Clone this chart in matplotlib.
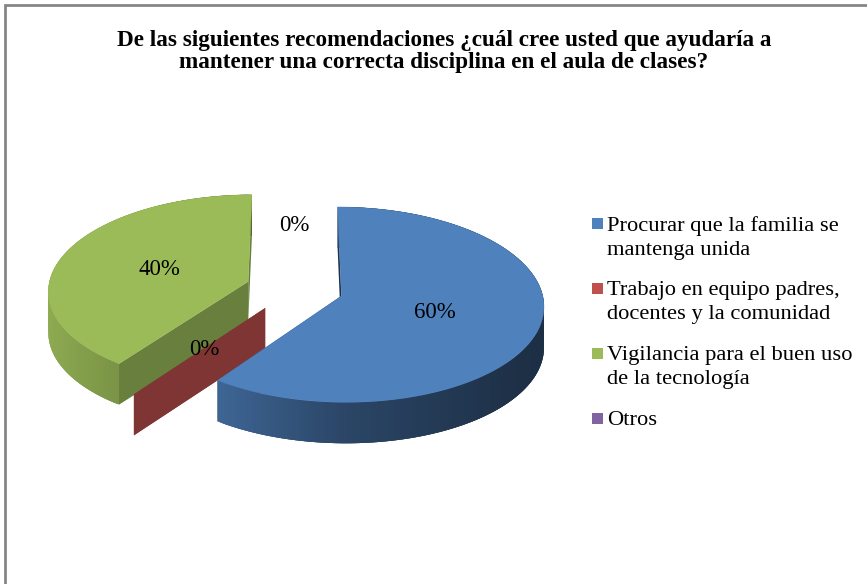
#!/usr/bin/env python3

import matplotlib
matplotlib.use("Agg")
import matplotlib.pyplot as plt
from matplotlib.patches import Polygon, Rectangle
from matplotlib.collections import PolyCollection
from matplotlib.colors import to_rgb
import numpy as np

title = ("De las siguientes recomendaciones ¿cuál cree usted que ayudaría a\n"
         "mantener una correcta disciplina en el aula de clases?")
categories = ["Procurar que la familia se\nmantenga unida",
              "Trabajo en equipo padres,\ndocentes y la comunidad",
              "Vigilancia para el buen uso\nde la tecnología",
              "Otros"]
values = [60, 0, 40, 0]

colors = ["#4f81bd", "#c0504d", "#9bbb59", "#8064a2"]
face_shade = [0.38, 0.66, 0.68, 0.6]
draw_order = [3, 2, 1, 0]

# look of the 3d pie, in pixels
cx, cy = 294.5, 288.7
rx, ry = 200, 95.6
persp = 0.088
explode = 0.245
depth = 41
label_r = 0.48

plt.rcParams['font.family'] = ['Liberation Serif', 'DejaVu Serif']


def project(X, Y):
    f = 1 / (1 + persp * Y)
    return cx + rx * X * f, cy - ry * Y * f


def shade(col, s):
    return tuple(c * s for c in to_rgb(col))


def side_light(t):
    return np.interp(np.sin(t), [-1, -0.588, 0, 0.77, 1], [0.92, 0.79, 0.54, 0.38, 0.36])


fig = plt.figure(figsize=(8.67, 5.84), dpi=100)
ax = fig.add_axes([0, 0, 1, 1])
ax.set_xlim(0, 867)
ax.set_ylim(584, 0)
ax.axis('off')

# chart frame, only left and top show in the crop
ax.plot([5, 5, 867], [584, 5, 5], color="#868686", lw=2, solid_joinstyle='miter')

total = sum(values)
starts = np.cumsum([0] + values[:-1]) / total * 2 * np.pi
sweeps = np.array(values) / total * 2 * np.pi

for i in draw_order:
    t0, dt = starts[i], sweeps[i]
    mid = t0 + dt / 2
    ox, oy = explode * np.sin(mid), explode * np.cos(mid)
    vx, vy = project(ox, oy)

    # cut faces
    for t in (t0, t0 + dt):
        rimx, rimy = project(ox + np.sin(t), oy + np.cos(t))
        if abs(rimx - vx) < 0.01:
            continue
        ax.add_patch(Polygon([(vx, vy), (rimx, rimy), (rimx, rimy + depth), (vx, vy + depth)],
                             closed=True, fc=shade(colors[i], face_shade[i]), lw=0, zorder=2))

    if dt == 0:
        continue

    ts = np.linspace(t0, t0 + dt, 240)
    px, py = project(ox + np.sin(ts), oy + np.cos(ts))

    # outer wall, overlapping quads so the light changes along the rim without seams
    quads = [[(px[j], py[j]), (px[j + 3], py[j + 3]),
              (px[j + 3], py[j + 3] + depth), (px[j], py[j] + depth)]
             for j in range(len(ts) - 3)]
    quad_cols = [shade(colors[i], side_light(t)) for t in ts[:-3]]
    ax.add_collection(PolyCollection(quads, facecolors=quad_cols, edgecolors='none',
                                     linewidths=0, zorder=2))

    # top
    ax.add_patch(Polygon(np.column_stack([np.r_[vx, px], np.r_[vy, py]]), closed=True,
                         fc=colors[i], ec=colors[i], lw=0.3, zorder=2))

for i, v in enumerate(values):
    mid = starts[i] + sweeps[i] / 2
    lx, ly = project((explode + label_r) * np.sin(mid), (explode + label_r) * np.cos(mid))
    ax.text(lx, ly + 1.5, f"{v}%", fontsize=16.5, color="black", ha='center', va='center', zorder=5)

ax.text(444, 51.5, title, fontsize=16.7, fontweight='bold', ha='center', va='center',
        linespacing=1.12, color="black")

# legend with the swatch on the first line of each entry
ly = 224
for name, col in zip(categories, colors):
    ax.add_patch(Rectangle((592, ly - 6), 11, 11, fc=col, lw=0))
    ax.text(607, ly - 8, name, fontsize=16.2, ha='left', va='top', linespacing=1.36, color="black")
    ly += 24 * (name.count("\n") + 1) + 17

fig.savefig("out.png", dpi=100)
